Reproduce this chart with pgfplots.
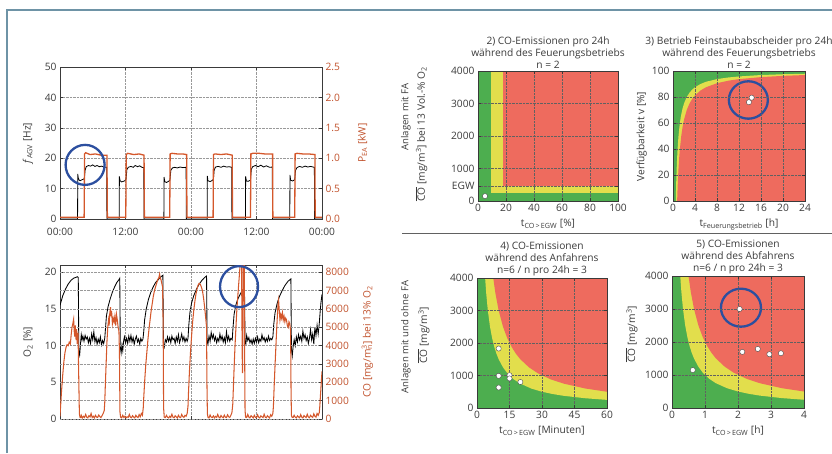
\documentclass[border=0pt]{standalone}
\usepackage{pgfplots}
\pgfplotsset{compat=1.18}
\usepackage{fontspec}
\setmainfont{Open Sans}
\definecolor{frame}{HTML}{6E93A6}
\definecolor{cgreen}{HTML}{4DAE4F}
\definecolor{cyellow}{HTML}{E2DE4C}
\definecolor{cred}{HTML}{EE6B5E}
\definecolor{corange}{HTML}{D4572B}
\definecolor{clabel}{HTML}{C0502A}
\definecolor{cblue}{HTML}{2C4F9F}
\definecolor{ctext}{HTML}{3A3A3A}
\tikzset{circ/.style={cblue, line width=2.3pt}}
\pgfplotsset{
  base/.style={scale only axis, anchor=south west,
    font=\fontsize{10.2}{12}\selectfont,
    /pgf/number format/assume math mode=true,
    /pgf/number format/1000 sep={},
    tick align=inside,
    axis line style={draw=ctext, line width=0.8pt},
    tick style={ctext, line width=0.6pt}, major tick length=3pt,
    ticklabel style={text=ctext}, label style={text=ctext},
    title style={align=center, text=ctext, font=\fontsize{10.2}{12}\selectfont, yshift=-7pt},
  },
  zone/.style={base, grid=major, grid style={densely dotted, ctext!80, line width=0.5pt}, axis on top},
  dots/.style={only marks, mark=*, mark size=2.6pt, mark options={fill=white, draw=gray!60!black, line width=0.4pt}},
  ylab/.style 2 args={ylabel style={at={(axis description cs:#1,#2)}, anchor=center}},
}
\begin{document}
\begin{tikzpicture}
\path[use as bounding box] (0pt,0pt) rectangle (832pt,453pt);
\draw[frame, line width=1.5pt] (7pt,0pt) -- (7pt,443pt) -- (832pt,443pt);
\draw[ctext!80, line width=1pt] (402pt,220pt) -- (832pt,220pt);
\node[rotate=90, text=ctext, font=\fontsize{9.6}{11}\selectfont] at (406pt,336pt) {Anlagen mit FA};
\node[rotate=90, text=ctext, font=\fontsize{9.6}{11}\selectfont] at (406pt,116pt) {Anlagen mit und ohne FA};

% ---------- Panel 1 ----------
\begin{axis}[base, at={(60pt,234pt)}, width=262pt, height=152pt,
  xmin=0, xmax=48, ymin=0, ymax=50,
  xtick={0,12,24,36,48}, xticklabels={00:00,12:00,00:00,12:00,00:00},
  xticklabel style={yshift=-5.5pt},
  ytick={0,10,20,30,40,50}, ytick pos=left,
  grid=major, grid style={densely dotted, gray!80},
  ylabel={\textit{f}\textsubscript{AGV} [Hz]}, ylab={-0.122}{0.5}]
\addplot[black, line width=0.8pt] coordinates {
(0,0)(3.22,0)(3.25,14.8)(3.35,13.5)(3.5,12.8)(3.7,12.6)(4.0,12.9)(4.45,13.2)(4.6,16.0)(4.8,17.2)(5.2,17.6)(5.6,17.4)(6.0,17.8)(6.4,17.3)(6.8,17.6)(7.2,17.2)(7.6,17.4)(8.0,17.1)(8.55,17.0)(8.6,0)
(10.85,0)(10.88,14.0)(11.0,12.6)(11.3,12.2)(11.8,12.5)(12.1,13.0)(12.25,16.2)(12.5,17.0)(13.0,17.3)(13.4,17.0)(13.8,17.6)(14.2,17.2)(14.6,17.5)(15.0,17.0)(15.35,16.9)(15.4,0)
(19.03,0)(19.06,13.8)(19.2,12.3)(19.5,12.0)(19.9,12.4)(20.15,12.8)(20.3,16.0)(20.6,16.8)(21.0,17.0)(21.5,16.8)(22.0,17.1)(22.5,16.9)(23.1,17.0)(23.15,0)
(26.96,0)(26.99,14.2)(27.1,12.6)(27.5,12.3)(27.9,12.7)(28.1,13.0)(28.25,16.2)(28.5,17.1)(29.0,17.3)(29.5,17.0)(30.0,17.4)(30.5,17.1)(31.0,17.2)(31.45,17.0)(31.5,0)
(33.98,0)(34.01,14.0)(34.15,12.5)(34.5,12.4)(34.9,12.8)(35.05,16.3)(35.3,17.2)(35.8,17.6)(36.3,17.2)(36.8,17.7)(37.3,17.1)(37.8,17.5)(38.4,17.0)(38.9,17.1)(38.93,0)
(42.1,0)(42.13,14.5)(42.25,12.8)(42.6,12.5)(43.0,12.9)(43.15,16.0)(43.4,16.9)(43.9,17.3)(44.4,17.0)(44.9,17.4)(45.4,17.1)(45.9,17.3)(46.6,17.0)(46.65,0)(48,0)};
\end{axis}
\begin{axis}[base, at={(60pt,234pt)}, width=262pt, height=152pt,
  xmin=0, xmax=48, ymin=0, ymax=2.5,
  axis y line*=right, axis x line=none,
  ytick={0,0.5,1,1.5,2,2.5},
  yticklabel style={text=clabel, /pgf/number format/.cd, fixed, fixed zerofill, precision=1},
  ylabel={P\textsubscript{EA} [kW]}, ylabel style={text=clabel}, ylabel shift=11pt]
\addplot[corange, line width=1.3pt] coordinates {
(0,0.03)(4.42,0.03)(4.5,1.07)(4.7,1.09)(5.5,1.06)(6.5,1.07)(7.5,1.05)(8.6,1.05)(8.68,0.03)
(12.05,0.03)(12.13,1.06)(12.4,1.08)(13.5,1.06)(14.5,1.07)(15.4,1.05)(15.46,0.03)
(20.1,0.03)(20.18,1.07)(20.5,1.08)(21.5,1.07)(22.5,1.07)(23.2,1.06)(23.26,0.03)
(28.05,0.03)(28.12,1.06)(28.4,1.07)(29.5,1.06)(30.5,1.07)(31.55,1.05)(31.6,0.03)
(34.9,0.03)(34.97,1.07)(35.3,1.08)(36.5,1.08)(37.5,1.07)(38.95,1.07)(39.0,0.03)
(43.0,0.03)(43.08,1.07)(43.4,1.08)(44.5,1.07)(45.5,1.07)(46.7,1.06)(46.75,0.03)(48,0.03)};
\draw[circ] (axis cs:4.6,0.89) ellipse [x radius=19.5pt, y radius=20pt];
\end{axis}

% ---------- Panel 2 ----------
\begin{axis}[base, at={(60pt,34pt)}, width=262pt, height=154pt,
  xmin=0, xmax=48, ymin=0, ymax=21,
  xtick={0,12,24,36,48}, xticklabels={,,,,},
  ytick={0,5,10,15,20}, ytick pos=left,
  xmajorgrids, grid style={densely dotted, gray!80},
  ylabel={O\textsubscript{2} [\%]}, ylab={-0.122}{0.5}]
\addplot[black, line width=0.85pt] coordinates {
(0,15.5)(0.5,16.8)(1.0,17.7)(1.5,18.4)(2.0,18.9)(2.5,19.2)(3.2,19.4)(3.35,19.3)
(3.45,9.2)(3.6,8.7)(3.75,10.2)(3.9,11.5)(4.05,10.8)(4.2,11.3)(4.4,10.6)(4.6,11.4)(4.8,10.9)(5.0,11.2)(5.2,10.4)(5.4,11.0)(5.6,10.3)(5.8,11.6)(6.0,10.8)(6.2,11.9)(6.4,10.5)(6.6,11.1)(6.8,10.2)(7.0,10.9)(7.2,10.4)(7.4,11.2)(7.6,10.1)(7.8,10.7)(8.0,10.3)(8.2,11.0)
(8.35,12.5)(8.5,14)(8.8,15.3)(9.2,16.4)(9.6,17.3)(10.0,18.0)(10.4,18.6)(10.8,19.0)(10.95,19.2)
(11.05,9.8)(11.2,9.0)(11.35,10.1)(11.5,9.3)(11.65,10.6)(11.8,11.2)(12.0,10.4)(12.2,11.0)(12.4,10.3)(12.6,11.3)(12.8,10.6)(13.0,11.4)(13.2,10.5)(13.4,11.1)(13.6,10.2)(13.8,10.9)(14.0,11.3)(14.2,10.5)(14.4,10.9)(14.6,10.2)(14.8,11.0)(15.0,10.6)(15.2,10.9)
(15.35,12.0)(15.5,13.5)(15.8,15.0)(16.2,16.3)(16.6,17.2)(17.0,17.9)(17.5,18.6)(18.0,19.0)(18.5,19.4)(18.85,19.6)
(18.95,10.2)(19.1,9.8)(19.3,10.8)(19.5,10.5)(19.7,11.2)(19.9,10.6)(20.1,11.1)(20.3,10.4)(20.5,11.3)(20.7,10.8)(20.9,11.0)(21.1,10.3)(21.3,11.2)(21.5,10.6)(21.7,11.5)(21.9,10.4)(22.1,10.9)(22.3,11.6)(22.5,10.7)(22.7,11.2)(22.9,10.5)(23.1,11.0)(23.3,10.6)(23.45,11.0)
(23.6,12.8)(23.8,14.5)(24.1,15.8)(24.5,16.8)(25.0,17.7)(25.5,18.4)(26.0,18.9)(26.5,19.3)(26.85,19.5)
(26.95,10.6)(27.1,10.2)(27.3,11.3)(27.5,10.6)(27.7,11.8)(27.9,11.0)(28.1,11.5)(28.3,10.7)(28.5,11.2)(28.7,10.4)(28.9,11.0)(29.1,10.6)(29.3,11.6)(29.5,10.8)(29.7,11.3)(29.9,10.5)(30.1,11.1)(30.3,10.4)(30.5,11.9)(30.7,10.7)(30.9,11.3)(31.1,10.6)(31.3,11.0)(31.55,10.8)
(31.7,12.5)(31.9,14.3)(32.2,15.5)(32.6,16.4)(33.0,17.0)(33.4,17.5)(33.8,17.8)
(33.9,10.5)(34.05,10.2)(34.2,11.4)(34.4,10.7)(34.6,11.1)(34.8,10.4)(35.0,10.8)(35.2,10.2)(35.4,10.9)(35.6,10.3)(35.8,11.0)(36.0,10.5)(36.2,11.2)(36.4,10.4)(36.6,10.9)(36.8,10.6)(37.0,11.5)(37.2,10.8)(37.4,11.1)(37.6,10.5)(37.8,11.0)(38.0,10.6)(38.2,11.3)(38.4,10.7)(38.6,11.0)(38.8,10.8)(39.0,11.2)
(39.15,12.8)(39.4,14.5)(39.8,15.8)(40.2,16.7)(40.7,17.5)(41.2,18.2)(41.8,18.8)(42.3,19.1)
(42.4,9.5)(42.55,8.6)(42.7,9.8)(42.9,10.8)(43.1,10.0)(43.3,11.2)(43.5,10.5)(43.7,11.5)(43.9,10.8)(44.1,11.3)(44.3,10.6)(44.5,12.0)(44.7,11.0)(44.9,11.5)(45.1,10.7)(45.3,11.2)(45.5,10.3)(45.7,11.0)(45.9,12.2)(46.1,10.8)(46.3,11.6)(46.5,10.2)(46.7,12.5)(46.9,11.4)(47.1,12.8)(47.3,11.6)(47.5,13.0)
(47.65,14.5)(47.8,15.8)(48,17.0)};
\end{axis}
\begin{axis}[base, at={(60pt,34pt)}, width=262pt, height=154pt,
  xmin=0, xmax=48, ymin=0, ymax=8400,
  axis y line*=right, axis x line=none,
  ytick={0,1000,...,8000}, ymajorgrids, grid style={densely dotted, gray!80},
  yticklabel style={text=clabel},
  ylabel={CO [mg/m\rlap{\textsubscript{n}}\textsuperscript{3}] bei 13\% O\textsubscript{2}}, ylabel style={text=clabel}, ylabel shift=6pt]
\addplot[corange, line width=1.05pt] coordinates {
(0,150)(0.15,900)(0.3,1600)(0.5,2400)(0.7,3100)(0.9,3600)(1.1,3900)(1.3,4050)(1.5,4000)(1.7,4200)(1.9,4100)(2.05,4600)(2.2,5000)(2.35,5200)(2.5,5450)(2.6,4800)(2.7,4500)(2.8,5100)(2.95,4300)(3.05,4900)(3.15,4100)(3.3,4700)(3.45,2000)(3.55,300)(3.65,100)
(3.8,80)(3.9,200)(4.1,60)(4.3,150)(4.5,90)(4.7,250)(4.9,100)(5.1,60)(5.3,180)(5.5,120)(5.7,300)(5.9,80)(6.1,150)(6.3,60)(6.5,200)(6.7,100)(6.9,90)(7.1,220)(7.3,130)(7.5,80)(7.7,180)(7.9,300)(8.1,450)(8.2,900)
(8.3,1800)(8.45,3000)(8.6,4200)(8.75,5000)(8.9,5400)(9.0,5100)(9.1,5700)(9.25,6100)(9.35,5600)(9.45,5900)(9.6,5200)(9.75,5500)(9.9,5300)(10.05,5600)(10.2,5100)(10.35,5700)(10.5,5400)(10.65,5000)(10.8,4800)(10.9,3500)(10.98,400)(11.1,100)
(11.3,60)(11.5,200)(11.7,80)(11.9,150)(12.1,60)(12.3,120)(12.5,90)(12.7,250)(12.9,100)(13.1,70)(13.3,180)(13.5,100)(13.7,60)(13.9,200)(14.1,110)(14.3,80)(14.5,240)(14.7,120)(14.9,300)(15.1,200)(15.25,600)
(15.35,1200)(15.5,2000)(15.7,2900)(15.9,3600)(16.1,4300)(16.3,4900)(16.5,5400)(16.7,5900)(16.9,6300)(17.1,6700)(17.3,7000)(17.5,7200)(17.7,7400)(17.9,7600)(18.1,7700)(18.25,7900)(18.35,7700)(18.5,7600)(18.65,7400)(18.8,7200)(18.9,5000)(18.98,600)(19.1,100)
(19.3,80)(19.5,200)(19.7,100)(19.9,60)(20.1,150)(20.3,90)(20.5,260)(20.7,100)(20.9,70)(21.1,180)(21.3,120)(21.5,60)(21.7,200)(21.9,100)(22.1,80)(22.3,250)(22.5,130)(22.7,90)(22.9,200)(23.1,150)(23.3,300)(23.45,700)
(23.55,1500)(23.7,2500)(23.9,3600)(24.1,4500)(24.3,5300)(24.5,5900)(24.7,6400)(24.9,6800)(25.1,7100)(25.3,7300)(25.5,7400)(25.7,7350)(25.9,7200)(26.1,7000)(26.3,6600)(26.5,6100)(26.7,5500)(26.85,5000)(26.92,2000)(27.0,300)(27.1,100)
(27.3,60)(27.5,220)(27.7,100)(27.9,80)(28.1,170)(28.3,60)(28.5,140)(28.7,90)(28.9,250)(29.1,100)(29.3,60)(29.5,190)(29.7,110)(29.9,70)(30.1,210)(30.3,100)(30.5,80)(30.7,230)(30.9,120)(31.1,90)(31.3,200)(31.5,350)(31.65,800)
(31.75,1600)(31.9,2800)(32.05,3900)(32.2,4800)(32.35,5700)(32.5,6400)(32.65,7000)(32.8,7600)(32.95,8200)(33.05,8800)(33.25,8800)(33.32,6000)(33.38,3500)(33.44,2500)(33.5,5000)(33.56,8800)(33.75,8800)(33.82,4000)(33.9,500)(34.0,100)
(34.2,80)(34.4,250)(34.6,100)(34.8,60)(35.0,180)(35.2,120)(35.4,60)(35.6,200)(35.8,90)(36.0,70)(36.2,230)(36.4,100)(36.6,60)(36.8,170)(37.0,120)(37.2,80)(37.4,260)(37.6,100)(37.8,70)(38.0,180)(38.2,110)(38.4,60)(38.6,230)(38.8,150)(39.0,300)(39.1,700)
(39.2,1500)(39.35,2600)(39.5,3600)(39.65,4600)(39.8,5500)(39.95,6300)(40.05,6500)(40.15,6000)(40.3,5400)(40.45,5700)(40.6,5500)(40.75,5800)(40.9,5400)(41.05,5600)(41.2,5300)(41.35,5500)(41.5,5400)(41.65,5100)(41.8,5000)(41.95,5300)(42.1,5200)(42.25,4800)(42.33,1500)(42.4,200)(42.5,100)
(42.7,80)(42.9,200)(43.1,100)(43.3,60)(43.5,170)(43.7,110)(43.9,70)(44.1,240)(44.3,100)(44.5,60)(44.7,190)(44.9,120)(45.1,80)(45.3,260)(45.5,110)(45.7,70)(45.9,200)(46.1,130)(46.3,90)(46.5,280)(46.7,150)(46.9,100)(47.1,300)(47.3,200)(47.5,350)(47.6,700)
(47.7,1200)(47.85,1900)(48,2600)};
\draw[circ] (axis cs:32.8,7220) ellipse [x radius=19pt, y radius=20.5pt];
\end{axis}

% ---------- Panel 3 ----------
\begin{axis}[zone, at={(478pt,252pt)}, width=140pt, height=130pt,
  xmin=0, xmax=100, ymin=0, ymax=4000,
  xtick={0,20,40,60,80,100}, ytick={0,460,1000,2000,3000,4000},
  yticklabels={0,EGW,1000,2000,3000,4000},
  title={2) CO-Emissionen pro 24h\\während des Feuerungsbetriebs\\n = 2},
  xlabel={t\textsubscript{CO\,>\,EGW} [\%]},
  ylabel={$\overline{\mbox{CO}}$ [mg/m\textsuperscript{3}] bei 13 Vol.-\% O\textsubscript{2}}, ylab={-0.405}{0.515}]
\addplot[fill=cgreen, draw=none] coordinates {(0,0)(100,0)(100,4000)(0,4000)} -- cycle;
\addplot[fill=cyellow, draw=none] coordinates {(9,240)(100,240)(100,4000)(9,4000)} -- cycle;
\addplot[fill=cred, draw=none] coordinates {(18,460)(100,460)(100,4000)(18,4000)} -- cycle;
\addplot[dots] coordinates {(5,150)};
\end{axis}

% ---------- Panel 4 ----------
\begin{axis}[zone, at={(673pt,252pt)}, width=132pt, height=130pt,
  xmin=0, xmax=24, ymin=0, ymax=100,
  xtick={0,4,8,12,16,20,24}, ytick={0,20,40,60,80,100},
  title={3) Betrieb Feinstaubabscheider pro 24h\\während des Feuerungsbetriebs\\n = 2},
  xlabel={t\textsubscript{Feuerungsbetrieb} [h]},
  ylabel={Verfügbarkeit v [\%]}, ylab={-0.237}{0.495}]
\addplot[fill=cgreen, draw=none] coordinates {(0,0)(24,0)(24,100)(0,100)} -- cycle;
\addplot[fill=cyellow, draw=none] coordinates {(0.5,0)(0.55,9.1)(0.6,16.7)(0.7,28.6)(0.8,37.5)(0.9,44.4)(1,50)(1.2,58.3)(1.4,64.3)(1.7,70.6)(2,75)(2.5,80)(3,83.3)(3.5,85.7)(4,87.5)(5,90)(6,91.7)(8,93.75)(10,95)(12,95.8)(16,96.9)(20,97.5)(24,97.9)(24,0)} -- cycle;
\addplot[fill=cred, draw=none] coordinates {(0.75,0)(0.8,6.25)(0.9,16.7)(1,25)(1.1,31.8)(1.25,40)(1.5,50)(1.75,57.1)(2,62.5)(2.5,70)(3,75)(3.5,78.6)(4,81.25)(5,85)(6,87.5)(8,90.6)(10,92.5)(12,93.75)(16,95.3)(20,96.25)(24,96.9)(24,0)} -- cycle;
\addplot[dots] coordinates {(13.8,76)(14.3,79.5)};
\draw[circ] (axis cs:13.7,77.7) ellipse [x radius=19.5pt, y radius=18.7pt];
\end{axis}

% ---------- Panel 5 ----------
\begin{axis}[zone, at={(477pt,45pt)}, width=130pt, height=130pt,
  xmin=0, xmax=60, ymin=0, ymax=4000,
  xtick={0,15,30,45,60}, ytick={0,1000,2000,3000,4000},
  title={4) CO-Emissionen\\während des Anfahrens\\n=6 / n pro 24h = 3},
  xlabel={t\textsubscript{CO\,>\,EGW} [Minuten]},
  ylabel={$\overline{\mbox{CO}}$ [mg/m\textsuperscript{3}]}, ylab={-0.41}{0.56}]
\addplot[fill=cgreen, draw=none] coordinates {(0,0)(60,0)(60,4000)(0,4000)} -- cycle;
\addplot[fill=cyellow, draw=none] coordinates {(3.75,4000)(4.25,3529)(5,3000)(6,2500)(7,2143)(8,1875)(9,1667)(10,1500)(12,1250)(14,1071)(17,882)(20,750)(25,600)(30,500)(35,429)(40,375)(50,300)(60,250)(60,4000)} -- cycle;
\addplot[fill=cred, draw=none] coordinates {(7.5,4000)(8.5,3529)(10,3000)(12,2500)(14,2143)(16,1875)(18,1667)(20,1500)(24,1250)(28,1071)(34,882)(40,750)(50,600)(60,500)(60,4000)} -- cycle;
\addplot[dots] coordinates {(10,1830)(10,990)(10,630)(15,1010)(15,910)(20,800)};
\end{axis}

% ---------- Panel 6 ----------
\begin{axis}[zone, at={(672pt,45pt)}, width=132pt, height=132pt,
  xmin=0, xmax=4, ymin=0, ymax=4000,
  xtick={0,1,2,3,4}, ytick={0,1000,2000,3000,4000},
  title={5) CO-Emissionen\\während des Abfahrens\\n=6 / n pro 24h = 3},
  xlabel={t\textsubscript{CO\,>\,EGW} [h]},
  ylabel={$\overline{\mbox{CO}}$ [mg/m\textsuperscript{3}]}, ylab={-0.305}{0.56}]
\addplot[fill=cgreen, draw=none] coordinates {(0,0)(4,0)(4,4000)(0,4000)} -- cycle;
\addplot[fill=cyellow, draw=none] coordinates {(0.25,4000)(0.283,3529)(0.333,3000)(0.4,2500)(0.467,2143)(0.533,1875)(0.6,1667)(0.667,1500)(0.8,1250)(0.933,1071)(1.133,882)(1.333,750)(1.667,600)(2,500)(2.333,429)(2.667,375)(3.333,300)(4,250)(4,4000)} -- cycle;
\addplot[fill=cred, draw=none] coordinates {(0.5,4000)(0.567,3529)(0.667,3000)(0.8,2500)(0.933,2143)(1.067,1875)(1.2,1667)(1.333,1500)(1.6,1250)(1.867,1071)(2.267,882)(2.667,750)(3.333,600)(4,500)(4,4000)} -- cycle;
\addplot[dots] coordinates {(0.63,1150)(2.05,3000)(2.13,1700)(2.6,1790)(2.95,1630)(3.3,1660)};
\draw[circ] (axis cs:2.09,3040) ellipse [x radius=20pt, y radius=19pt];
\end{axis}
\end{tikzpicture}
\end{document}
